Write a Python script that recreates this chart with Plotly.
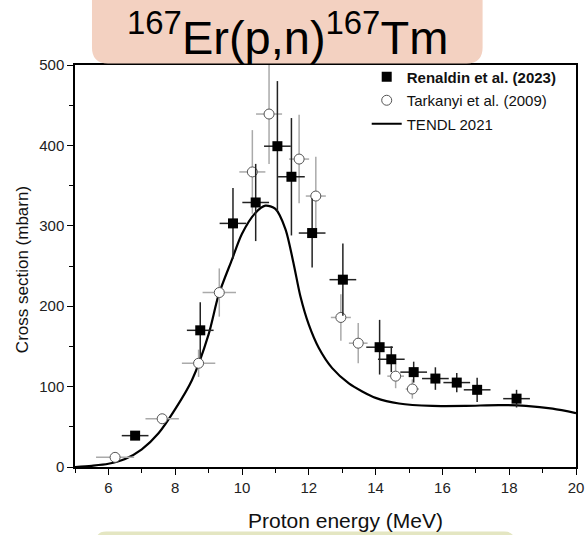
import plotly.graph_objects as go

# ---------------- data ----------------
ren_E = [6.8, 8.75, 9.73, 10.41, 11.06, 11.48, 12.1, 13.02, 14.12, 14.47, 15.14, 15.79, 16.43, 17.04, 18.22]
ren_sigma = [39, 170, 303, 329, 399, 361, 291, 233, 149, 134, 118, 110, 105, 96, 85]
ren_dsigma = [3, 35, 44, 48, 81, 73, 43, 45, 34, 16, 13, 14, 12, 15, 11]
ren_dE = [0.4] * 15

tak_E = [6.2, 7.61, 8.7, 9.32, 10.31, 10.81, 11.71, 12.21, 12.96, 13.48, 14.6, 15.1]
tak_sigma = [12, 60, 129, 217, 367, 439, 383, 337, 186, 154, 113, 97]
tak_dsigma = [4, 5, 17, 30, 52, 62, 55, 49, 29, 25, 15, 12]
tak_dE = [0.57, 0.5, 0.5, 0.5, 0.39, 0.39, 0.3, 0.3, 0.3, 0.28, 0.25, 0.2]

tendl_E = [5.0, 5.5, 6.0, 6.5, 7.0, 7.5, 8.0, 8.5, 9.0, 9.3, 9.7, 10.0, 10.4, 10.7, 11.0, 11.3,
           11.55, 11.75, 12.0, 12.3, 12.7, 13.2, 13.6, 14.0, 14.7, 15.7, 16.7, 17.7, 18.5, 19.3, 20.0]
tendl_sigma = [0, 1.5, 4, 10, 22, 42, 72, 108, 165, 214, 258, 290, 316, 325, 321, 296,
               252, 212, 177, 148, 123, 104, 94, 86, 79, 76, 76, 77, 76, 72.5, 67]

x_ticks = [6, 8, 10, 12, 14, 16, 18, 20]
y_ticks = [0, 100, 200, 300, 400, 500]

# ---------------- layout geometry ----------------
L, R, T, B = 75, 11.5, 64.5, 67.7
WIDTH, HEIGHT = 588, 535
PW = WIDTH - L - R
PH = HEIGHT - T - B


def px(xp):
    return (xp - L) / PW


def py(yp):
    return (HEIGHT - B - yp) / PH


def rounded_box(x0, y0, x1, y1, r):
    return (
        f"M {px(x0 + r)},{py(y0)} L {px(x1 - r)},{py(y0)} "
        f"Q {px(x1)},{py(y0)} {px(x1)},{py(y0 + r)} "
        f"L {px(x1)},{py(y1 - r)} Q {px(x1)},{py(y1)} {px(x1 - r)},{py(y1)} "
        f"L {px(x0 + r)},{py(y1)} Q {px(x0)},{py(y1)} {px(x0)},{py(y1 - r)} "
        f"L {px(x0)},{py(y0 + r)} Q {px(x0)},{py(y0)} {px(x0 + r)},{py(y0)} Z"
    )


SANS = "Liberation Sans, Arial, sans-serif"

fig = go.Figure()

fig.add_trace(go.Scatter(
    x=tendl_E, y=tendl_sigma, mode="lines", name="TENDL 2021",
    line=dict(color="black", width=2.2, shape="spline", smoothing=0.8),
    legendrank=3, legendgroup="c",
))

fig.add_trace(go.Scatter(
    x=tak_E, y=tak_sigma, mode="markers", name="Tarkanyi et al. (2009)",
    marker=dict(symbol="circle", size=10, color="white", line=dict(color="#555555", width=1)),
    error_x=dict(type="data", array=tak_dE, color="#aaaaaa", thickness=1.5, width=0),
    error_y=dict(type="data", array=tak_dsigma, color="#aaaaaa", thickness=1.5, width=0),
    legendrank=2, legendgroup="b",
))

fig.add_trace(go.Scatter(
    x=ren_E, y=ren_sigma, mode="markers", name="<b>Renaldin et al. (2023)</b>",
    marker=dict(symbol="square", size=10, color="black"),
    error_x=dict(type="data", array=ren_dE, color="#222222", thickness=1.5, width=0),
    error_y=dict(type="data", array=ren_dsigma, color="#222222", thickness=1.5, width=0),
    legendrank=1, legendgroup="a",
))

axis_common = dict(
    showgrid=False, zeroline=False, showline=True, linecolor="black", linewidth=1.5,
    mirror=True, ticks="outside", ticklen=6, tickwidth=1.2, tickcolor="black",
    tickfont=dict(family=SANS, size=15, color="#222222"),
)

fig.update_xaxes(range=[5, 20], tickvals=x_ticks, ticktext=[str(v) for v in x_ticks],
                 minor=dict(dtick=1, ticks="outside", ticklen=4, tickcolor="black", tickwidth=1),
                 **axis_common)
fig.update_yaxes(range=[0, 500], tickvals=y_ticks, ticktext=[str(v) for v in y_ticks],
                 minor=dict(dtick=50, ticks="outside", ticklen=4, tickcolor="black", tickwidth=1),
                 **axis_common)

fig.update_layout(
    width=WIDTH, height=HEIGHT,
    margin=dict(l=L, r=R, t=T, b=B, autoexpand=False),
    plot_bgcolor="white", paper_bgcolor="white",
    showlegend=True,
    legend=dict(
        x=px(367), y=py(60), xanchor="left", yanchor="top",
        bgcolor="rgba(0,0,0,0)", borderwidth=0,
        font=dict(family=SANS, size=15, color="#111111"),
        tracegroupgap=1, itemwidth=30,
    ),
    shapes=[
        dict(type="path", xref="paper", yref="paper", path=rounded_box(92, -20, 483, 63, 16),
             fillcolor="#f3d1c1", line=dict(width=0), layer="above"),
        dict(type="path", xref="paper", yref="paper", path=rounded_box(96, 532, 515, 560, 10),
             fillcolor="#e4e6c2", line=dict(width=0), layer="above"),
    ],
    annotations=[
        dict(text="<sup>167</sup>Er(p,n)<sup>167</sup>Tm", xref="paper", yref="paper",
             x=px(288), y=py(33), xanchor="center", yanchor="middle", showarrow=False,
             font=dict(family=SANS, size=47, color="black")),
        dict(text="Proton energy (MeV)", xref="paper", yref="paper",
             x=px(346), y=py(521), xanchor="center", yanchor="middle", showarrow=False,
             font=dict(family=SANS, size=21, color="#111111")),
        dict(text="Cross section (mbarn)", xref="paper", yref="paper", textangle=-90,
             x=px(22), y=py(270), xanchor="center", yanchor="middle", showarrow=False,
             font=dict(family=SANS, size=17, color="#111111")),
    ],
)

fig.write_html("out.html", config={"displayModeBar": False},
               post_script="document.body.style.margin='0px';document.body.style.overflow='hidden';")
